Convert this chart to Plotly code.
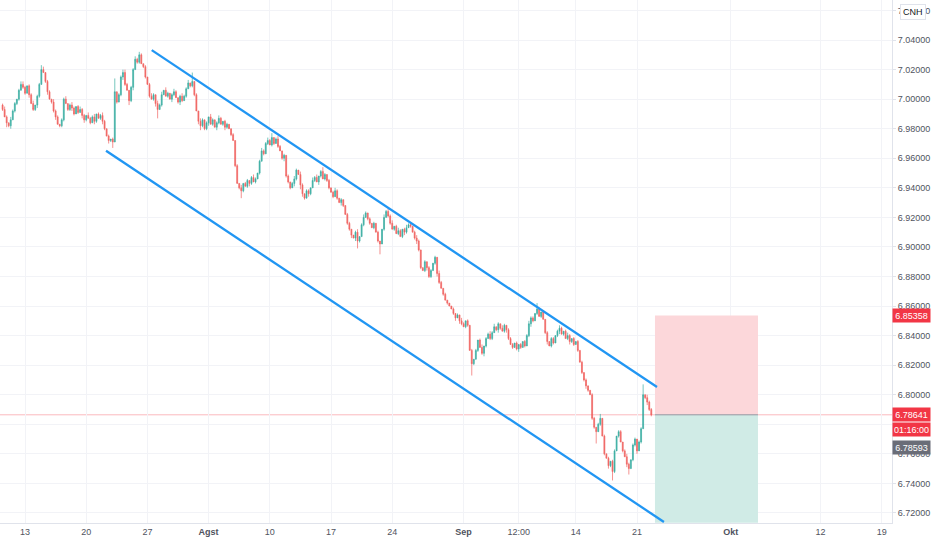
import plotly.graph_objects as go

# ---------------- DATA ----------------
first_open = 6.996
close_prices = [
    6.993, 6.988, 6.984, 6.982, 6.986, 6.992, 6.997, 7.000, 7.006, 7.010,
    7.008, 7.004, 7.009, 7.003, 6.997, 6.993, 6.996, 7.002, 7.010, 7.020,
    7.018, 7.012, 7.005, 7.000, 6.998, 6.992, 6.988, 6.983, 6.982, 6.986,
    7.000, 6.997, 6.993, 6.996, 6.994, 6.990, 6.995, 6.991, 6.993, 6.989,
    6.986, 6.989, 6.987, 6.984, 6.988, 6.985, 6.990, 6.987, 6.989, 6.985,
    6.980, 6.975, 6.972, 6.973, 6.971, 7.005, 6.998, 7.003, 7.015, 7.018,
    7.010, 7.006, 6.999, 7.008, 7.020, 7.027, 7.025, 7.030, 7.024, 7.022,
    7.015, 7.010, 7.002, 7.000, 7.003, 6.997, 6.993, 6.996, 7.003, 7.006,
    7.002, 7.004, 7.000, 7.003, 7.005, 7.001, 6.998, 7.002, 6.999, 7.002,
    7.007, 7.011, 7.009, 7.012, 7.003, 6.992, 6.985, 6.982, 6.986, 6.980,
    6.984, 6.988, 6.983, 6.986, 6.981, 6.984, 6.987, 6.983, 6.985, 6.981,
    6.983, 6.980, 6.976, 6.972, 6.955, 6.943, 6.940, 6.938, 6.943, 6.941,
    6.945, 6.943, 6.947, 6.944, 6.946, 6.950, 6.958, 6.965, 6.963, 6.970,
    6.972, 6.969, 6.974, 6.970, 6.973, 6.968, 6.965, 6.960, 6.962, 6.948,
    6.944, 6.940, 6.943, 6.946, 6.952, 6.949, 6.942, 6.936, 6.933, 6.938,
    6.936, 6.940, 6.945, 6.947, 6.944, 6.948, 6.951, 6.946, 6.949, 6.945,
    6.940, 6.937, 6.934, 6.938, 6.933, 6.930, 6.932, 6.928, 6.922, 6.916,
    6.912, 6.908, 6.906, 6.910, 6.904, 6.907, 6.915, 6.920, 6.923, 6.919,
    6.916, 6.913, 6.916, 6.910, 6.904, 6.902, 6.912, 6.920, 6.924, 6.921,
    6.916, 6.912, 6.914, 6.909, 6.911, 6.907, 6.912, 6.910, 6.913, 6.915,
    6.914, 6.910, 6.906, 6.904, 6.898, 6.886, 6.884, 6.890, 6.886, 6.880,
    6.884, 6.889, 6.893, 6.882, 6.876, 6.872, 6.868, 6.864, 6.862, 6.860,
    6.858, 6.855, 6.852, 6.854, 6.850, 6.848, 6.846, 6.850, 6.847, 6.830,
    6.821, 6.824, 6.830, 6.837, 6.832, 6.828, 6.833, 6.838, 6.841, 6.838,
    6.842, 6.846, 6.844, 6.848, 6.845, 6.843, 6.847, 6.844, 6.838, 6.834,
    6.832, 6.835, 6.831, 6.834, 6.832, 6.836, 6.833, 6.840, 6.848, 6.852,
    6.850, 6.855, 6.858, 6.853, 6.856, 6.851, 6.842, 6.836, 6.833, 6.838,
    6.835, 6.840, 6.843, 6.845, 6.841, 6.843, 6.838, 6.840, 6.836, 6.838,
    6.834, 6.836, 6.830, 6.822, 6.815, 6.810, 6.806, 6.803, 6.800, 6.784,
    6.778, 6.775, 6.780, 6.784, 6.772, 6.760, 6.757, 6.752, 6.755, 6.748,
    6.762, 6.772, 6.775, 6.768, 6.762, 6.758, 6.753, 6.750, 6.756, 6.766,
    6.770, 6.762, 6.768, 6.777, 6.800, 6.798, 6.795, 6.790, 6.7864,
]
# wick lengths in units of 0.001 (one digit per candle)
upper_wick_digits = (
    "1210211012" "2101120113" "2011021101" "1201210121" "1021120112"
    "1010190112" "2101121210" "1012102120" "2101210121" "1206010210"
    "1021012101" "1001010201" "1012101211" "2130121010" "1012102101"
    "1021201310" "1012101001" "1001201210" "1010100212" "1201210121"
    "1012100101" "1010210100" "0101021010" "1010120112" "1201021011"
    "1010101121" "1041010101" "1012101210" "1010101001" "1013010101"
    "1011012101" "101170211"
)
lower_wick_digits = (
    "1031201110" "1102011210" "0120112011" "1011210102" "2101021012"
    "1021401012" "1031201101" "1010126010" "0102101210" "1011102311"
    "1201021012" "1010101510" "1210101010" "1011010121" "1102103210"
    "2101021011" "1010102101" "1202510101" "1010170101" "1010101210"
    "1012110121" "1012101010" "0120210110" "8101012101" "1012101210"
    "1012101012" "1010101201" "1012010121" "1010112101" "1801010216"
    "1010102401" "120101211"
)

tick_positions = [11, 41, 71, 101, 131, 161, 191, 226, 253, 281, 311, 357, 401, 431]
tick_labels = ["13", "20", "27", "<b>Agst</b>", "10", "17", "24", "<b>Sep</b>", "12:00",
               "14", "21", "<b>Okt</b>", "12", "19"]
price_ticks = [6.72, 6.74, 6.76, 6.78, 6.80, 6.82, 6.84, 6.86, 6.88, 6.90,
               6.92, 6.94, 6.96, 6.98, 7.00, 7.02, 7.04, 7.06]
hidden_price_ticks = [6.78]  # covered by the price labels in the original

channel_upper = [(73.1, 7.0332), (320.8, 6.8052)]
channel_lower = [(50.7, 6.9651), (324.2, 6.7139)]

position_start, position_end = 319.8, 370.3
position_entry = 6.78641
position_stop = 6.85358
position_target = 6.7133
last_price = 6.78641
bid_price = 6.78593
countdown = "01:16:00"

# ---------------- BUILD ----------------
n = len(close_prices)
assert len(upper_wick_digits) == n and len(lower_wick_digits) == n
idx = list(range(n))
open_prices = [first_open] + close_prices[:-1]
high_prices = [max(o, c) + int(u) * 0.001 for o, c, u in zip(open_prices, close_prices, upper_wick_digits)]
low_prices = [min(o, c) - int(d) * 0.001 for o, c, d in zip(open_prices, close_prices, lower_wick_digits)]

GREEN = "#26a69a"
RED = "#ef5350"
BLUE = "#2196f3"

fig = go.Figure()

# last price line
fig.add_shape(type="line", xref="paper", x0=0, x1=1, y0=last_price, y1=last_price,
              line=dict(color="rgba(242,54,69,0.35)", width=1), layer="between")

# position tool boxes (between grid and traces)
fig.add_shape(type="rect", x0=position_start, x1=position_end, y0=position_entry, y1=position_stop,
              fillcolor="#fcd7da", line=dict(width=0), layer="between")
fig.add_shape(type="rect", x0=position_start, x1=position_end, y0=position_target, y1=position_entry,
              fillcolor="#d0ebe6", line=dict(width=0), layer="between")
fig.add_shape(type="line", x0=position_start, x1=position_end, y0=position_entry, y1=position_entry,
              line=dict(color="#9598a1", width=1), layer="between")

fig.add_trace(go.Candlestick(
    x=idx, open=open_prices, high=high_prices, low=low_prices, close=close_prices,
    increasing=dict(line=dict(color=GREEN, width=0.7), fillcolor=GREEN),
    decreasing=dict(line=dict(color=RED, width=0.7), fillcolor=RED),
    whiskerwidth=0, hoverinfo="skip", showlegend=False, opacity=0.9,
))

for ch in (channel_upper, channel_lower):
    fig.add_trace(go.Scatter(x=[p[0] for p in ch], y=[p[1] for p in ch], mode="lines",
                             line=dict(color=BLUE, width=2.3), hoverinfo="skip", showlegend=False))

TICKFONT = dict(family="Liberation Sans, Arial, sans-serif", size=9, color="#50535e")

fig.update_layout(
    width=932, height=550,
    margin=dict(l=0, r=40, t=0, b=27),
    paper_bgcolor="white", plot_bgcolor="white",
    boxgap=0.35,
    xaxis=dict(range=[-1.27, 436], rangeslider=dict(visible=False),
               tickmode="array", tickvals=tick_positions, ticktext=tick_labels,
               showgrid=True, gridcolor="#f2f3f7", zeroline=False,
               showline=True, linecolor="#e0e3eb", ticks="", tickfont=TICKFONT),
    yaxis=dict(range=[6.7132, 7.0671], side="right", tickmode="array",
               tickvals=price_ticks,
               ticktext=["" if v in hidden_price_ticks else f"{v:.5f}" for v in price_ticks],
               showgrid=True, gridcolor="#f2f3f7", zeroline=False,
               showline=True, linecolor="#e0e3eb", ticks="outside", ticklen=3,
               tickcolor="#e0e3eb", tickfont=TICKFONT),
)

LABELFONT = dict(family="Liberation Sans, Arial, sans-serif", size=9, color="white")
def price_label(y, text, bg, yshift=0):
    fig.add_annotation(xref="paper", x=1, xanchor="left", yref="y", y=y, yshift=yshift,
                       text=text, showarrow=False, bgcolor=bg, font=LABELFONT,
                       width=35, height=11, borderpad=1, align="center")

price_label(position_stop, f"{position_stop:.5f}", "#f23645")
price_label(last_price, f"{last_price:.5f}", "#f23645")
price_label(last_price, countdown, "#f23645", yshift=-15)
price_label(bid_price, f"{bid_price:.5f}", "#6a6d78", yshift=-32)

fig.add_annotation(xref="paper", yref="paper", x=1, xanchor="left", xshift=8, y=1, yanchor="top",
                   yshift=-4, text="CNH", showarrow=False, bgcolor="white",
                   bordercolor="#e0e3eb", borderwidth=1, borderpad=2,
                   font=dict(family="Liberation Sans, Arial, sans-serif", size=9, color="#131722"))

fig.write_html("out.html", config={"displayModeBar": False},
               post_script="document.body.style.margin='0';document.body.style.overflow='hidden';")
